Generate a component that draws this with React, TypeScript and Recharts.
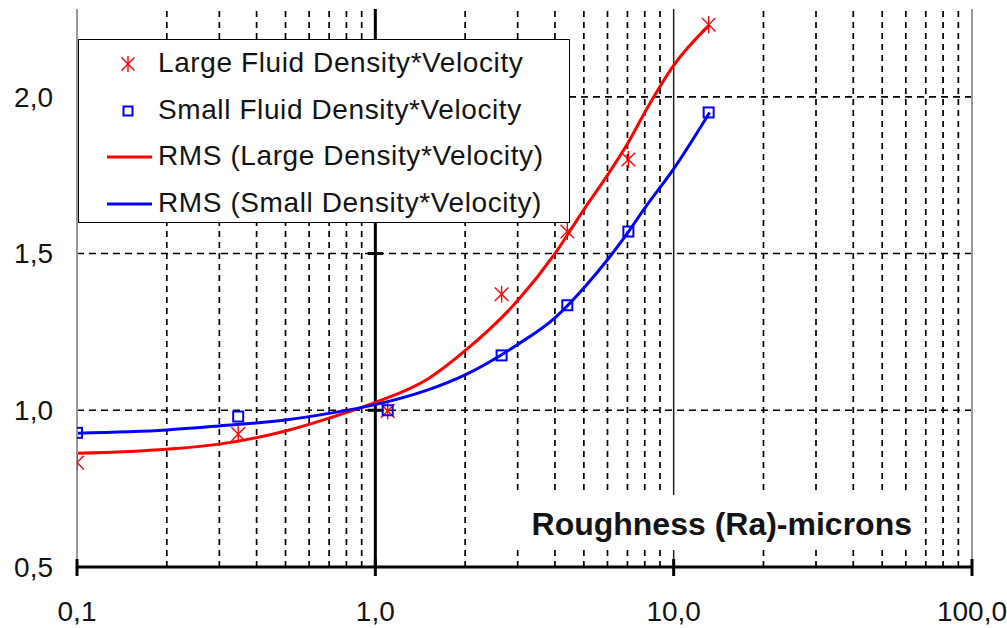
import {
  ComposedChart,
  Legend,
  Line,
  ReferenceLine,
  Scatter,
  XAxis,
  YAxis,
} from "recharts";

// roughness (Ra, microns) where the samples were measured
const sampleX = [0.1, 0.347, 1.1, 2.65, 4.4, 7.05, 13.1];
const largeMeasured = [0.833, 0.924, 0.998, 1.37, 1.57, 1.8, 2.23];
const smallMeasured = [0.928, 0.98, 1.0, 1.175, 1.335, 1.57, 1.95];

// fitted RMS curves
const rmsX = [0.1, 0.2, 0.3, 0.5, 0.7, 1.0, 1.5, 2, 3, 4, 5, 6, 7, 8, 10, 13.2];
const rmsLarge = [0.863, 0.876, 0.892, 0.934, 0.975, 1.025, 1.1, 1.19, 1.35, 1.5, 1.64, 1.75, 1.85, 1.95, 2.1, 2.23];
const rmsSmall = [0.927, 0.937, 0.95, 0.969, 0.99, 1.018, 1.065, 1.113, 1.21, 1.295, 1.39, 1.48, 1.565, 1.645, 1.77, 1.95];

const xTicks = [0.1, 1, 10, 100];
const yTicks = [0.5, 1, 1.5, 2];
const minorX = [0.2, 0.3, 0.4, 0.5, 0.6, 0.7, 0.8, 0.9, 2, 3, 4, 5, 6, 7, 8, 9, 20, 30, 40, 50, 60, 70, 80, 90];
const gridY = [1, 1.5, 2];

const largeLabel = "Large Fluid Density*Velocity";
const smallLabel = "Small Fluid Density*Velocity";
const rmsLargeLabel = "RMS (Large Density*Velocity)";
const rmsSmallLabel = "RMS (Small Density*Velocity)";
const axisTitle = "Roughness (Ra)-microns";

const toPoints = (xs: number[], ys: number[]) => xs.map((x, i) => ({ x, y: ys[i] }));

const largePts = toPoints(sampleX, largeMeasured);
const smallPts = toPoints(sampleX, smallMeasured);
const largeCurve = toPoints(rmsX, rmsLarge);
const smallCurve = toPoints(rmsX, rmsSmall);

const FONT = "'Liberation Sans', Arial, sans-serif";
const TEXT = "#141414";
const RED = "#ff0000";
const BLUE = "#0000ff";
const TICK_SIZE = 6;
const TICK_MARGIN = 28;
const YTICK_SPAN = 1.06; // half-width of tick marks on the x=1 axis, as a log factor

const comma = (v: number) => v.toFixed(1).replace(".", ",");

function StarMark({ cx, cy, r = 8.5 }: { cx: number; cy: number; r?: number }) {
  const d = r * 0.8;
  return (
    <g stroke={RED} strokeWidth={1.4} fill="none">
      <line x1={cx} y1={cy - r} x2={cx} y2={cy + r} />
      <line x1={cx - d} y1={cy - d} x2={cx + d} y2={cy + d} />
      <line x1={cx - d} y1={cy + d} x2={cx + d} y2={cy - d} />
    </g>
  );
}

function SquareMark({ cx, cy, s = 10 }: { cx: number; cy: number; s?: number }) {
  return <rect x={cx - s / 2} y={cy - s / 2} width={s} height={s} fill="none" stroke={BLUE} strokeWidth={2} />;
}

function XTick({ x, y, payload }: any) {
  const axisY = y - TICK_SIZE - TICK_MARGIN;
  return (
    <g>
      <line x1={x} y1={axisY - 8} x2={x} y2={axisY + 9} stroke="#000" strokeWidth={3} />
      <text x={x} y={y} dy="0.71em" textAnchor="middle" fontSize={28} fontFamily={FONT} fill={TEXT}>
        {comma(payload.value)}
      </text>
    </g>
  );
}

function AxisTitle({ viewBox }: any) {
  const right = viewBox.x + viewBox.width - 60;
  const base = viewBox.y - 32;
  return (
    <g>
      <rect x={right - 397} y={base - 40} width={403} height={55} fill="#fff" />
      <text x={right} y={base} textAnchor="end" fontSize={32} fontWeight="bold" fontFamily={FONT} fill={TEXT}>
        {axisTitle}
      </text>
    </g>
  );
}

function LegendBox() {
  const rows = [
    { label: largeLabel, kind: "star" },
    { label: smallLabel, kind: "square" },
    { label: rmsLargeLabel, kind: "red" },
    { label: rmsSmallLabel, kind: "blue" },
  ];
  return (
    <div
      style={{
        width: 492,
        height: 184,
        boxSizing: "border-box",
        border: "1.5px solid #000",
        background: "#fff",
        position: "relative",
        fontFamily: FONT,
        fontSize: 28,
        color: TEXT,
      }}
    >
      {rows.map((r, i) => (
        <div key={r.label} style={{ position: "absolute", left: 0, top: 4 + i * 46.5, height: 40, width: "100%" }}>
          <svg width={78} height={40} style={{ position: "absolute", left: 0, top: 0 }}>
            {r.kind === "star" && <StarMark cx={49} cy={20} r={8} />}
            {r.kind === "square" && <SquareMark cx={49} cy={20} s={9} />}
            {r.kind === "red" && <line x1={28} y1={20} x2={73} y2={20} stroke={RED} strokeWidth={3} />}
            {r.kind === "blue" && <line x1={28} y1={20} x2={73} y2={20} stroke={BLUE} strokeWidth={3} />}
          </svg>
          <span style={{ position: "absolute", left: 79, top: 3, whiteSpace: "nowrap", letterSpacing: 0.6 }}>
            {r.label}
          </span>
        </div>
      ))}
    </div>
  );
}

export default function App() {
  return (
    <div style={{ width: 1007, height: 628, background: "#fff" }}>
      <style>{"body{margin:0;background:#fff}"}</style>
      <ComposedChart width={1007} height={628} margin={{ top: 9, right: 35, left: 0, bottom: 0 }}>
        {minorX.map((v) => (
          <ReferenceLine key={`vx${v}`} x={v} stroke="#000" strokeWidth={1.7} strokeDasharray="6 5" />
        ))}
        {gridY.map((v) => (
          <ReferenceLine key={`hy${v}`} y={v} stroke="#000" strokeWidth={1.7} strokeDasharray="7 5" />
        ))}
        <ReferenceLine x={10} stroke="#222" strokeWidth={1.5} />
        <ReferenceLine x={100} stroke="#999" strokeWidth={2} />
        <ReferenceLine x={1} stroke="#000" strokeWidth={3} />
        {gridY.map((v) => (
          <ReferenceLine
            key={`yt${v}`}
            segment={[
              { x: 1 / YTICK_SPAN, y: v },
              { x: YTICK_SPAN, y: v },
            ]}
            stroke="#000"
            strokeWidth={3}
          />
        ))}
        <XAxis
          dataKey="x"
          type="number"
          scale="log"
          domain={[0.1, 100]}
          ticks={xTicks}
          allowDataOverflow
          height={61}
          tickSize={TICK_SIZE}
          tickMargin={TICK_MARGIN}
          tickLine={false}
          axisLine={{ stroke: "#000", strokeWidth: 3 }}
          tick={<XTick />}
          label={{ content: <AxisTitle /> }}
        />
        <YAxis
          dataKey="y"
          type="number"
          domain={[0.5, 2.28]}
          ticks={yTicks}
          allowDataOverflow
          width={77}
          tickSize={TICK_SIZE}
          tickMargin={18}
          tickLine={false}
          axisLine={{ stroke: "#999", strokeWidth: 2 }}
          tickFormatter={comma}
          tick={{ fontSize: 28, fontFamily: FONT, fill: TEXT }}
        />
        <Line
          data={largeCurve}
          dataKey="y"
          type="monotone"
          stroke={RED}
          strokeWidth={3}
          dot={false}
          isAnimationActive={false}
        />
        <Line
          data={smallCurve}
          dataKey="y"
          type="monotone"
          stroke={BLUE}
          strokeWidth={3}
          dot={false}
          isAnimationActive={false}
        />
        <Scatter
          data={largePts}
          dataKey="y"
          shape={(p: any) => <StarMark cx={p.cx} cy={p.cy} />}
          isAnimationActive={false}
        />
        <Scatter
          data={smallPts}
          dataKey="y"
          shape={(p: any) => <SquareMark cx={p.cx} cy={p.cy} />}
          isAnimationActive={false}
        />
        <Legend
          layout="vertical"
          align="center"
          verticalAlign="middle"
          wrapperStyle={{ left: 78, top: 39, width: 492, height: 184 }}
          content={() => <LegendBox />}
        />
      </ComposedChart>
    </div>
  );
}
